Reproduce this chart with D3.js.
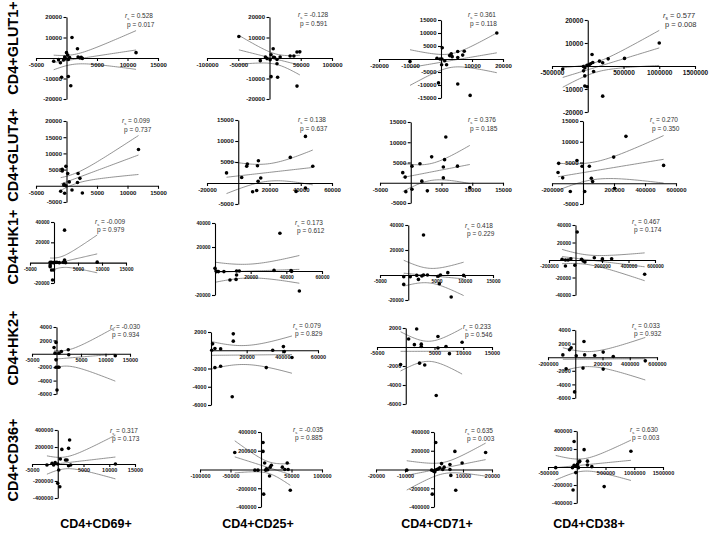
<!DOCTYPE html>
<html lang="en"><head><meta charset="utf-8">
<title>CD4 correlations</title>
<script src="https://cdn.jsdelivr.net/npm/d3@7/dist/d3.min.js"></script>
<style>
	body { margin: 0; background: #fff; }
	svg text { font-family: "Liberation Sans", Arial, sans-serif; }
	.tick text { font-weight: bold; fill: #111; }
	.stat { fill: #333; }
</style>
</head>
<body>
<svg id="chart" width="709" height="533"></svg>
<script>
// ---- data ----
var rowLabels = ["CD4+GLUT1+", "CD4+GLUT4+", "CD4+HK1+", "CD4+HK2+", "CD4+CD36+"];
var colLabels = ["CD4+CD69+", "CD4+CD25+", "CD4+CD71+", "CD4+CD38+"];

var rsValues = [
	["0.528", "-0.128", "0.361", "0.577"],
	["0.099", "0.138", "0.376", "0.270"],
	["-0.009", "0.173", "0.418", "0.467"],
	["-0.030", "0.079", "0.233", "0.033"],
	["0.317", "-0.035", "0.635", "0.630"]
];
var pValues = [
	["0.017", "0.591", "0.118", "0.008"],
	["0.737", "0.637", "0.185", "0.350"],
	["0.979", "0.612", "0.229", "0.174"],
	["0.934", "0.829", "0.546", "0.932"],
	["0.173", "0.885", "0.003", "0.003"]
];

var xDomains = [
	[[-5000, 15000], [-100000, 100000], [-20000, 20000], [-500000, 1500000]],
	[[-5000, 15000], [-20000, 60000], [-5000, 15000], [-200000, 600000]],
	[[-5000, 15000], [0, 60000], [-5000, 15000], [-200000, 600000]],
	[[-5000, 15000], [0, 60000], [-5000, 15000], [-200000, 600000]],
	[[-5000, 15000], [-100000, 100000], [-20000, 20000], [-500000, 1500000]]
];
var yDomains = [
	[[-20000, 20000], [-20000, 20000], [-15000, 15000], [-20000, 20000]],
	[[-5000, 20000], [-5000, 15000], [-5000, 15000], [-5000, 15000]],
	[[-20000, 40000], [-20000, 40000], [-20000, 40000], [-40000, 40000]],
	[[-6000, 4000], [-6000, 2000], [-6000, 2000], [-6000, 4000]],
	[[-400000, 400000], [-400000, 400000], [-400000, 400000], [-400000, 400000]]
];

var xTicks = [
	[[-5000, 5000, 10000, 15000], [-100000, -50000, 50000, 100000], [-20000, -10000, 10000, 20000], [-500000, 500000, 1000000, 1500000]],
	[[-5000, 5000, 10000, 15000], [-20000, 20000, 40000, 60000], [-5000, 5000, 10000, 15000], [-200000, 200000, 400000, 600000]],
	[[-5000, 5000, 10000, 15000], [20000, 40000, 60000], [-5000, 5000, 10000, 15000], [-200000, 200000, 400000, 600000]],
	[[-5000, 5000, 10000, 15000], [20000, 40000, 60000], [-5000, 5000, 10000, 15000], [-200000, 200000, 400000, 600000]],
	[[-5000, 5000, 10000, 15000], [-100000, -50000, 50000, 100000], [-20000, -10000, 10000, 20000], [-500000, 500000, 1000000, 1500000]]
];
var yTicks = [
	[[-20000, -10000, 10000, 20000], [-20000, -10000, 10000, 20000], [-15000, -10000, -5000, 5000, 10000, 15000], [-20000, -10000, 10000, 20000]],
	[[-5000, 5000, 10000, 15000, 20000], [-5000, 5000, 10000, 15000], [-5000, 5000, 10000, 15000], [-5000, 5000, 10000, 15000]],
	[[-20000, 20000, 40000], [-20000, 20000, 40000], [-20000, 20000, 40000], [-40000, -20000, 20000, 40000]],
	[[-6000, -4000, -2000, 2000, 4000], [-6000, -4000, -2000, 2000], [-6000, -4000, -2000, 2000], [-6000, -4000, -2000, 2000, 4000]],
	[[-400000, -200000, 200000, 400000], [-400000, -200000, 200000, 400000], [-400000, -200000, 200000, 400000], [-400000, -200000, 200000, 400000]]
];

var glut1Pts = [
	[[900,10000],[-2100,-1600],[-1000,-2300],[-500,-1000],[-300,500],[0,2600],[200,1500],[-200,-300],[300,-700],[1800,4500],[1900,500],[2200,0],[2400,300],[2600,-200],[11400,2600],[-800,-9400],[300,-9000],[700,-13500],[-1300,-800],[500,200]],
	[[-49000,10500],[5900,4500],[-14700,-1300],[-4000,-300],[2500,1600],[6500,300],[12000,-700],[17000,500],[33000,1000],[39000,1000],[44000,2900],[48500,3000],[2500,-9100],[13000,-9400],[12000,-2800],[44000,-13700],[-6500,500],[1000,-800],[8000,200]],
	[[18000,10000],[400,4300],[-1300,300],[-300,0],[300,0],[2800,1300],[3300,2000],[3600,900],[5400,2900],[7500,3000],[7000,1500],[1200,-700],[1800,-2200],[200,-2200],[-800,-9200],[5400,-9600],[9400,-14000],[-10000,-1000],[5400,600]],
	[[1000000,10000],[-350000,-1300],[60000,5000],[-60000,-200],[-40000,-800],[-10000,300],[0,200],[20000,500],[40000,1000],[70000,1500],[164000,2100],[209000,1400],[286000,3100],[514000,3300],[-59000,-2100],[-41000,-4300],[82000,-2400],[-41000,-8700],[-9000,-9000],[209000,-13100]]
];
var glut4Pts = [
	[[11800,11200],[-700,5100],[-700,4600],[-100,6000],[200,3800],[1900,3800],[2200,2300],[1800,1000],[450,1200],[-400,200],[-100,0],[900,-1300],[-950,-1700],[-300,-2300],[2600,-2200],[-400,500]],
	[[-7500,2400],[2200,1300],[5400,4000],[5800,4500],[12300,4100],[12900,5300],[14400,1200],[12700,400],[9200,-2100],[11800,-1800],[33300,6100],[43000,11100],[47700,4000],[43000,-1200],[37000,-2000]],
	[[5700,11300],[3400,6400],[1500,4700],[200,4100],[-1300,2500],[-900,1400],[5500,5700],[5300,3900],[7600,4100],[1800,400],[5300,1200],[-800,-2200],[200,-1600],[2700,-2000],[9600,-1200]],
	[[277000,11300],[198000,6300],[-39000,5500],[-157000,4800],[-161000,2600],[-131000,1300],[-6000,4100],[41000,4100],[54000,1200],[62000,400],[520000,4300],[-82000,-2000],[11000,-2000],[204000,-1200]]
];
var hk1Pts = [
	[[2200,32000],[-800,300],[-500,300],[-100,0],[200,300],[600,300],[1100,0],[1900,300],[2200,2600],[2400,0],[9000,500],[-800,-3900],[-500,-7200],[-100,-7200],[-300,-17000],[-800,-2300]],
	[[36400,31400],[0,2200],[600,0],[1900,-500],[5000,-500],[8400,-7500],[11800,-7000],[12100,-3300],[12100,0],[13600,0],[33100,500],[42600,300],[43000,-300],[47300,-16700],[900,-500]],
	[[2700,32000],[-800,-1300],[-800,-7500],[350,-1300],[1500,-300],[1800,-3500],[2400,-800],[2700,0],[3400,0],[5300,-1000],[5700,0],[5500,-7000],[7000,1900],[7600,-17600],[9800,-300]],
	[[12700,32000],[-101000,800],[-76000,0],[-56000,0],[-35000,1500],[-76000,-6800],[-5000,-6000],[46000,800],[58000,-1100],[71000,-2300],[142000,2600],[203000,1500],[203000,0],[273000,1500],[522000,-16200]]
];
var hk2Pts = [
	[[-500,950],[-100,1700],[-300,100],[500,100],[1000,350],[2400,600],[2500,-150],[-100,-900],[-100,-2000],[300,-2000],[500,-2000],[100,-5400],[12000,-300]],
	[[900,700],[400,0],[2200,200],[5400,150],[12500,1800],[12500,1000],[2200,-1900],[5400,-1750],[11900,-5100],[31000,-1900],[34600,0],[40600,400],[41100,-150],[45400,-800]],
	[[1900,1900],[500,850],[1500,250],[2700,300],[2700,50],[5600,1100],[5600,-100],[7000,50],[7600,-700],[9800,500],[-900,-1850],[2400,-1700],[3300,-1900],[5300,-5100]],
	[[-91000,340],[-42000,1100],[-30000,1400],[-67000,-1700],[7000,200],[64000,2300],[57000,-1600],[69000,340],[143000,250],[205000,750],[205000,-1750],[279000,100],[514000,-540],[-5000,-5100]]
];
var cd36Pts = [
	[[2300,282000],[800,172000],[2100,184000],[1500,47000],[500,59000],[0,0],[-800,-12000],[-1100,8000],[-500,16000],[-2100,-12000],[200,-71000],[0,-227000],[400,-267000],[2100,-20000],[2500,-12000],[11200,0],[1800,47000]],
	[[-43000,182000],[3300,288000],[3300,193000],[-10000,-7000],[-5000,-7000],[6000,70000],[9000,7000],[11000,-3000],[15000,25000],[17000,46000],[14000,-70000],[35000,25000],[39000,0],[43000,70000],[44500,0],[48000,-221000],[4400,-263000],[7700,-7000]],
	[[600,288000],[-9400,-7000],[-800,-7000],[-200,-17000],[300,-25000],[1500,7000],[2000,18000],[2600,63000],[3000,0],[3500,25000],[5500,53000],[5500,0],[5800,-63000],[7200,193000],[9700,70000],[7500,-221000],[-600,-263000],[17800,182000],[900,0]],
	[[-46000,284000],[128000,193000],[-366000,-7000],[-75000,-7000],[-46000,18000],[-20000,10000],[12000,29000],[41000,55000],[52000,65000],[186000,65000],[186000,22000],[262000,4000],[-17000,-62000],[-64000,-255000],[477000,-218000],[942000,175000],[29000,-7000]]
];
var allPts = [glut1Pts, glut4Pts, hk1Pts, hk2Pts, cd36Pts];

// ---- layout (pixels): [xLeft, xRight, yTop, yBottom] ----
var boxes = [
	[[36,158,17,99], [207,332,17,99], [379,503,20,98], [552,695,20,112]],
	[[36,158,121,202], [207,332,120,204], [380,503,122,203], [552,676,121,204]],
	[[30,126,222,283], [215,322,223,295], [380,493,225,300], [549,655,225,295]],
	[[32,130,327,394], [211,318,332,405], [377,492,328,404], [548,657,330,398]],
	[[32,135,430,498], [200,322,432,507], [376,492,432,507], [548,663,431,503]]
];
var statPos = [
	[[125,18],[298,17],[468,17],[663,18]],
	[[122,123],[298,122],[468,122],[650,122]],
	[[95,224],[295,225],[465,228],[632,224]],
	[[110,329],[293,328],[463,329],[632,328]],
	[[110,433],[293,432],[465,433],[630,432]]
];
var tickFont = [6, 6, 5, 5.5, 5.5];
var rowLabelY = [48, 155, 247, 348, 460];
var colLabelX = [96, 258, 437, 589];

// two-sided 95% t critical values
var tCrit = {10:2.228,11:2.201,12:2.179,13:2.160,14:2.145,15:2.131,16:2.120,17:2.110,18:2.101,19:2.093,20:2.086,21:2.080,22:2.074};

var svg = d3.select("#chart");

function fit(pts) {
	var n = pts.length;
	var mx = d3.mean(pts, d => d[0]), my = d3.mean(pts, d => d[1]);
	var sxx = d3.sum(pts, d => (d[0] - mx) * (d[0] - mx));
	var sxy = d3.sum(pts, d => (d[0] - mx) * (d[1] - my));
	var b = sxy / sxx, a = my - b * mx;
	var sse = d3.sum(pts, d => Math.pow(d[1] - a - b * d[0], 2));
	var s = Math.sqrt(sse / (n - 2));
	return { a: a, b: b, mx: mx, sxx: sxx, s: s, n: n, t: tCrit[n - 2] || 2.1 };
}

for (var r = 0; r < 5; r++) {
	for (var c = 0; c < 4; c++) {
		drawPanel(r, c);
	}
}

function drawPanel(r, c) {
	var box = boxes[r][c];
	var pts = allPts[r][c];
	var x = d3.scaleLinear().domain(xDomains[r][c]).range([box[0], box[1]]);
	var y = d3.scaleLinear().domain(yDomains[r][c]).range([box[3], box[2]]);
	var fs = (r == 0 && c == 3) ? 6.5 : tickFont[r];

	var clipId = "clip" + r + c;
	svg.append("clipPath").attr("id", clipId)
		.append("rect")
		.attr("x", box[0] - 4).attr("y", box[2] - 2)
		.attr("width", box[1] - box[0] + 8).attr("height", box[3] - box[2] + 4);

	var g = svg.append("g");

	// fit + 95% band
	var f = fit(pts);
	var ext = d3.extent(pts, d => d[0]);
	var xs = d3.range(0, 41).map(i => ext[0] + (ext[1] - ext[0]) * i / 40);
	var half = xv => f.t * f.s * Math.sqrt(1 / f.n + Math.pow(xv - f.mx, 2) / f.sxx);
	var lines = [
		xs.map(xv => [xv, f.a + f.b * xv]),
		xs.map(xv => [xv, f.a + f.b * xv + half(xv)]),
		xs.map(xv => [xv, f.a + f.b * xv - half(xv)])
	];
	var line = d3.line().x(d => x(d[0])).y(d => y(d[1]));
	g.append("g").attr("clip-path", "url(#" + clipId + ")")
		.selectAll("path")
		.data(lines)
		.enter()
		.append("path")
		.attr("d", line)
		.attr("fill", "none")
		.attr("stroke", "#777")
		.attr("stroke-width", 0.8);

	// axes crossing at origin
	var xAxis = d3.axisBottom(x).tickValues(xTicks[r][c]).tickSize(3).tickSizeOuter(0)
		.tickPadding(1.5).tickFormat(d => String(d));
	var yAxis = d3.axisLeft(y).tickValues(yTicks[r][c]).tickSize(3).tickSizeOuter(0)
		.tickPadding(1.5).tickFormat(d => String(d));

	var gx = g.append("g").attr("transform", "translate(0," + y(0) + ")").call(xAxis);
	var gy = g.append("g").attr("transform", "translate(" + x(0) + ",0)").call(yAxis);
	[gx, gy].forEach(function (a) {
		a.selectAll("path, line").attr("stroke", "#000").attr("stroke-width", 1.1);
		a.selectAll("text").attr("font-size", fs);
	});

	// points
	g.append("g").attr("clip-path", "url(#" + clipId + ")")
		.selectAll("circle")
		.data(pts)
		.enter()
		.append("circle")
		.attr("cx", d => x(d[0]))
		.attr("cy", d => y(d[1]))
		.attr("r", 1.8)
		.attr("fill", "#000");

	// statistics
	var sp = statPos[r][c];
	var sfs = (r == 0 && c == 3) ? 7.5 : 6.5;
	var t1 = g.append("text").attr("class", "stat").attr("x", sp[0]).attr("y", sp[1]).attr("font-size", sfs);
	t1.append("tspan").attr("font-style", "italic").text("r");
	t1.append("tspan").attr("font-size", sfs * 0.65).attr("dy", 1.5).text("s");
	t1.append("tspan").attr("dy", -1.5).text(" = " + rsValues[r][c]);
	g.append("text").attr("class", "stat").attr("x", sp[0] + 2).attr("y", sp[1] + (r < 2 ? 9 : 8))
		.attr("font-size", sfs)
		.text("p = " + pValues[r][c]);
}

// row labels
svg.selectAll("text.row")
	.data(rowLabels)
	.enter()
	.append("text")
	.attr("class", "row")
	.attr("transform", (d, i) => "translate(18," + rowLabelY[i] + ") rotate(-90)")
	.attr("text-anchor", "middle")
	.attr("font-size", 14.5)
	.attr("font-weight", "bold")
	.text(d => d);

// column labels
svg.selectAll("text.col")
	.data(colLabels)
	.enter()
	.append("text")
	.attr("class", "col")
	.attr("x", (d, i) => colLabelX[i])
	.attr("y", 528)
	.attr("text-anchor", "middle")
	.attr("font-size", 12.5)
	.attr("font-weight", "bold")
	.text(d => d);
</script>
</body></html>
